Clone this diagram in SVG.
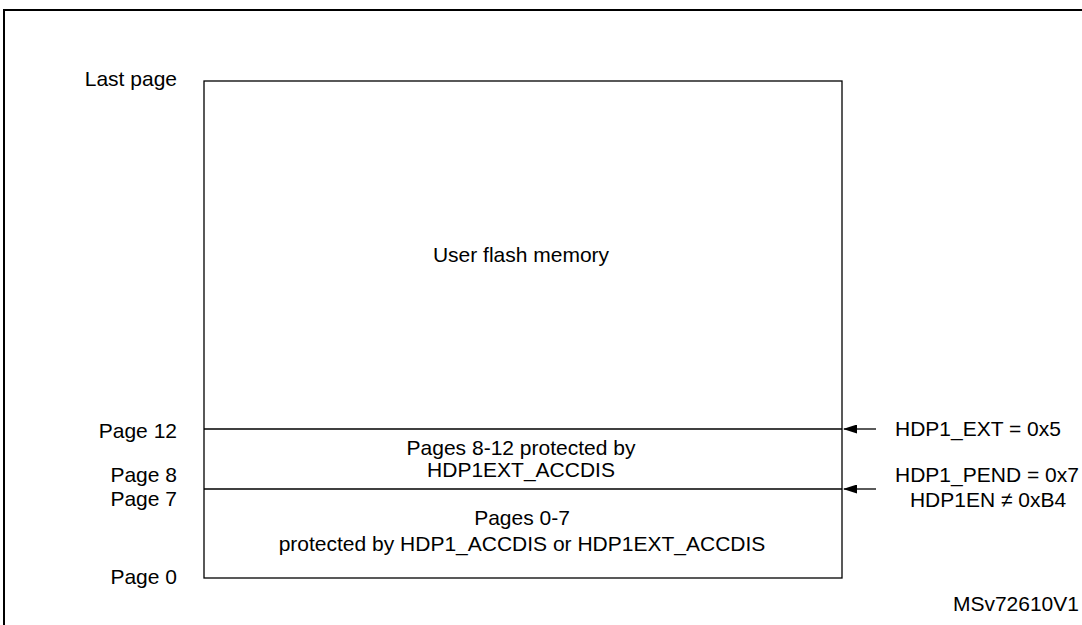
<svg xmlns="http://www.w3.org/2000/svg" width="1082" height="625" viewBox="0 0 1082 625">
<style>
text{font-family:"Liberation Sans",Arial,sans-serif;font-size:21px;fill:#000}
.l{stroke:#000;stroke-width:1.3;fill:none}
</style>
<defs><marker id="a" markerWidth="14" markerHeight="9" refX="13" refY="4.5" orient="auto" markerUnits="userSpaceOnUse"><path d="M0,0 L14,4.5 L0,9 Z" fill="#000"/></marker></defs>
<rect x="4" y="10" width="1090" height="630" fill="none" stroke="#000" stroke-width="2"/>
<g id="flash"><rect class="l" x="204" y="81" width="638" height="497"/><text x="521" y="262" text-anchor="middle">User flash memory</text></g>
<g id="ext"><line class="l" x1="204" y1="429" x2="842" y2="429"/><text x="521" y="455" text-anchor="middle">Pages 8-12 protected by</text><text x="521" y="477" text-anchor="middle">HDP1EXT_ACCDIS</text></g>
<g id="base"><line class="l" x1="204" y1="489" x2="842" y2="489"/><text x="522" y="525" text-anchor="middle">Pages 0-7</text><text x="522" y="551" text-anchor="middle">protected by HDP1_ACCDIS or HDP1EXT_ACCDIS</text></g>
<g id="labels">
<text x="177" y="86" text-anchor="end">Last page</text>
<text x="177" y="438" text-anchor="end">Page 12</text>
<text x="177" y="482" text-anchor="end">Page 8</text>
<text x="177" y="506" text-anchor="end">Page 7</text>
<text x="177" y="584" text-anchor="end">Page 0</text>
<text x="895" y="436">HDP1_EXT = 0x5</text>
<text x="895" y="482">HDP1_PEND = 0x7</text>
<text x="988" y="507" text-anchor="middle">HDP1EN ≠ 0xB4</text>
<text x="1079" y="611" text-anchor="end" font-size="14">MSv72610V1</text>
</g>
<g id="connectors">
<line class="l" x1="876" y1="429" x2="844" y2="429" marker-end="url(#a)"/>
<line class="l" x1="876" y1="489" x2="844" y2="489" marker-end="url(#a)"/>
</g>
</svg>
